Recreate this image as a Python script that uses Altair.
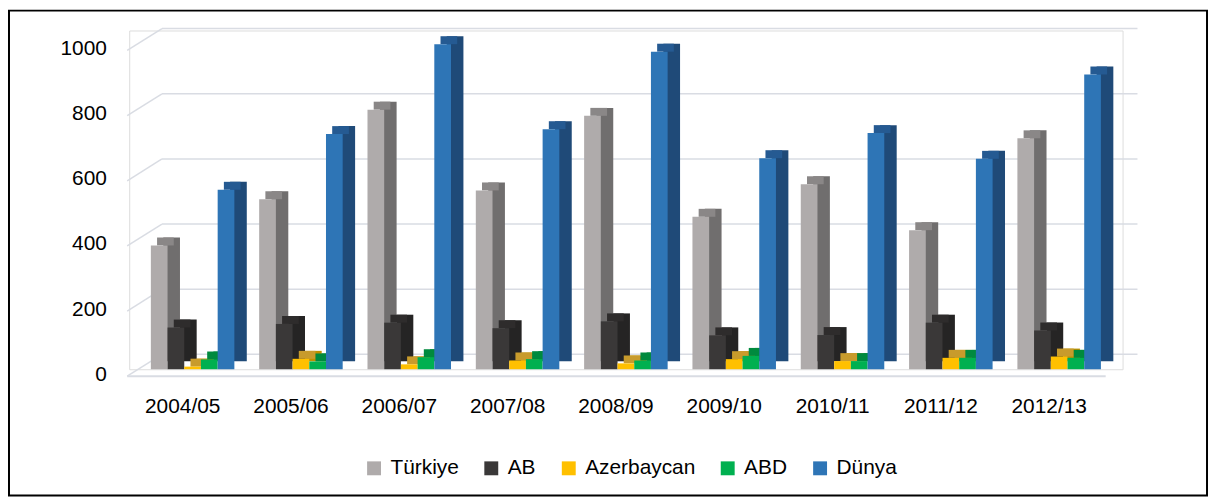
import altair as alt
import pandas as pd

years = ["2004/05", "2005/06", "2006/07", "2007/08", "2008/09",
         "2009/10", "2010/11", "2011/12", "2012/13"]
series = ["Türkiye", "AB", "Azerbaycan", "ABD", "Dünya"]

turkiye = [380, 522, 797, 549, 778, 468, 568, 427, 709]
ab = [128, 139, 143, 126, 147, 104, 105, 143, 119]
azerbaycan = [8, 32, 15, 27, 18, 31, 25, 35, 39]
abd = [30, 24, 37, 31, 27, 41, 25, 35, 35]
dunya = [551, 722, 998, 737, 975, 648, 725, 646, 905]

y_ticks = [0, 200, 400, 600, 800, 1000]

front_colors = ["#AFABAB", "#3A3838", "#FFC000", "#00B050", "#2E75B6"]
side_colors = ["#706E6E", "#252424", "#BF9000", "#00843C", "#1F4A78"]
top_colors = ["#8A8787", "#2E2C2C", "#C89B2C", "#008A3E", "#255A92"]

values = [turkiye, ab, azerbaycan, abd, dunya]
rows = []
for s, vals in zip(series, values):
    for y, v in zip(years, vals):
        rows.append({"year": y, "series": s, "value": v})
df = pd.DataFrame(rows)
ticks_df = pd.DataFrame({"tick": y_ticks})

FONT = "Liberation Sans"
W, H = 1000, 341
DOMAIN = [0, 1040]
DX, DY = 12.5, 8
P_IN, P_OUT = 0.229, 0.2
STEP = W / (len(years) - P_IN + 2 * P_OUT)
BW = STEP * (1 - P_IN)

yscale = alt.Scale(domain=DOMAIN, nice=False, zero=True)
xscale = alt.Scale(paddingInner=P_IN, paddingOuter=P_OUT)

y_axis = alt.Axis(title=None, values=y_ticks, format="d", domain=False, ticks=False, grid=False,
                  labelFontSize=21, labelFont=FONT, labelColor="#000",
                  labelPadding=23, labelOffset=5)

x_enc = alt.X("year:N", sort=years, scale=xscale,
              axis=alt.Axis(title=None, domain=False, ticks=False,
                            labelFontSize=21, labelFont=FONT, labelColor="#000",
                            labelPadding=27, labelOffset=-10, labelAngle=0))


def xo(shift):
    return alt.XOffset("series:N", sort=series,
                       scale=alt.Scale(domain=series, range=[shift, shift + BW],
                                       paddingInner=0, paddingOuter=0))


# gridlines on back wall
grid_back = alt.Chart(ticks_df).mark_rule(color="#D9DCE3", strokeWidth=1.5, yOffset=-15).encode(
    y=alt.Y("tick:Q", scale=yscale, axis=y_axis),
    x=alt.value(33), x2=alt.value(1015))
grid_diag = alt.Chart(ticks_df).mark_rule(color="#D9DCE3", strokeWidth=1.5, yOffset=7, y2Offset=-15).encode(
    y=alt.Y("tick:Q", scale=yscale, axis=y_axis), y2="tick:Q",
    x=alt.value(-2), x2=alt.value(33))
floor = alt.Chart(ticks_df[ticks_df.tick == 0]).mark_rule(color="#D9DCE3", strokeWidth=2, yOffset=7).encode(
    y=alt.Y("tick:Q", scale=yscale, axis=y_axis),
    x=alt.value(-2), x2=alt.value(983))

side = alt.Chart(df).mark_bar(yOffset=-DY, y2Offset=-DY).encode(
    x=x_enc, xOffset=xo(DX),
    y=alt.Y("value:Q", scale=yscale, axis=y_axis),
    y2=alt.datum(0),
    color=alt.Color("series:N", sort=series,
                    scale=alt.Scale(domain=series, range=side_colors), legend=None))

top = alt.Chart(df).mark_bar(yOffset=-DY, y2Offset=0).encode(
    x=x_enc, xOffset=xo(DX / 2),
    y=alt.Y("value:Q", scale=yscale, axis=y_axis),
    y2="value:Q",
    color=alt.Color("series:N", sort=series,
                    scale=alt.Scale(domain=series, range=top_colors), legend=None))

front = alt.Chart(df).mark_bar().encode(
    x=x_enc, xOffset=xo(0),
    y=alt.Y("value:Q", scale=yscale, axis=y_axis),
    color=alt.Color("series:N", sort=series,
                    scale=alt.Scale(domain=series, range=front_colors),
                    legend=alt.Legend(title=None, orient="none", direction="horizontal",
                                      legendX=236, legendY=430,
                                      symbolType="square", symbolSize=196,
                                      symbolStrokeWidth=0,
                                      labelFontSize=21, labelFont=FONT, labelColor="#000",
                                      labelOffset=6, columnPadding=22)),
    tooltip=["year", "series", "value"])

border = alt.Chart(ticks_df[ticks_df.tick == 0]).mark_rect(fill=None, stroke="#000", strokeWidth=2).encode(
    x=alt.value(-121), x2=alt.value(1085), y=alt.value(-20), y2=alt.value(468))

chart = alt.layer(grid_back, grid_diag, floor, side, top, front, border).resolve_scale(
    color="independent", xOffset="independent"
).properties(
    width=W, height=H,
    autosize=alt.AutoSizeParams(type="none"),
    padding={"left": 122, "top": 21, "right": 87, "bottom": 130},
).configure_view(stroke=None).configure(background="#FFFFFF")

chart.save("out.html", embed_options={"renderer": "svg", "actions": False})
